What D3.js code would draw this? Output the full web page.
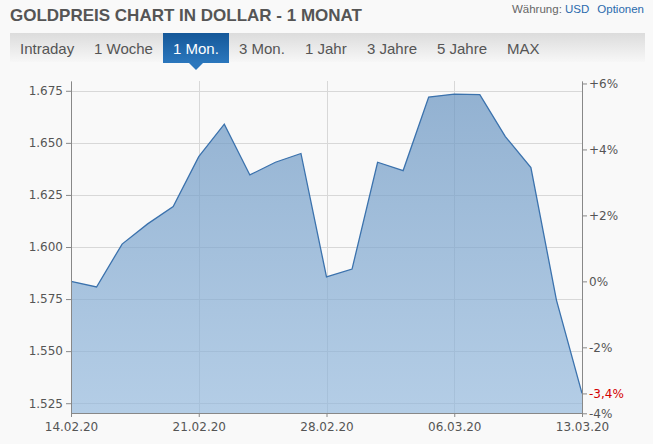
<!DOCTYPE html>
<html>
<head>
<meta charset="utf-8">
<script src="https://cdn.jsdelivr.net/npm/d3@7"></script>
<style>
  body { margin: 0; background: #f9f9f9; }
  svg { display: block; }
</style>
</head>
<body>
<div id="chart"></div>
<script>
// trading days shown on the chart
var days = ["14.02.20", "17.02.20", "18.02.20", "19.02.20", "20.02.20",
  "21.02.20", "24.02.20", "25.02.20", "26.02.20", "27.02.20",
  "28.02.20", "02.03.20", "03.03.20", "04.03.20", "05.03.20",
  "06.03.20", "09.03.20", "10.03.20", "11.03.20", "12.03.20", "13.03.20"];

// gold price in dollar (thousands)
var prices = [1.5835, 1.5808, 1.6014, 1.6111, 1.6194,
  1.6434, 1.6590, 1.6346, 1.6407, 1.6449,
  1.5856, 1.5894, 1.6407, 1.6367, 1.6720,
  1.6734, 1.6732, 1.6530, 1.6381, 1.5745, 1.5297];

var dateTicks = ["14.02.20", "21.02.20", "28.02.20", "06.03.20", "13.03.20"];
var priceTicks = [1.525, 1.550, 1.575, 1.600, 1.625, 1.650, 1.675];
var pctTicks = [-0.04, -0.02, 0, 0.02, 0.04, 0.06];

var tabs = ["Intraday", "1 Woche", "1 Mon.", "3 Mon.", "1 Jahr", "3 Jahre", "5 Jahre", "MAX"];
var tabX = [20, 94, 173, 239, 305, 367, 437, 507];
var activeTab = "1 Mon.";

var svgWidth = 653;
var svgHeight = 444;

var margin = { top: 81, right: 71, bottom: 31, left: 71 };
var width = svgWidth - margin.left - margin.right;
var height = svgHeight - margin.top - margin.bottom;

var svg = d3.select("#chart")
  .append("svg")
  .attr("width", svgWidth)
  .attr("height", svgHeight);

var defs = svg.append("defs");

var barGrad = defs.append("linearGradient")
  .attr("id", "barGrad").attr("x1", 0).attr("y1", 0).attr("x2", 0).attr("y2", 1);
barGrad.append("stop").attr("offset", "0%").attr("stop-color", "#dcdcdc");
barGrad.append("stop").attr("offset", "100%").attr("stop-color", "#f7f7f7");

var tabGrad = defs.append("linearGradient")
  .attr("id", "tabGrad").attr("x1", 0).attr("y1", 0).attr("x2", 0).attr("y2", 1);
tabGrad.append("stop").attr("offset", "0%").attr("stop-color", "#155899");
tabGrad.append("stop").attr("offset", "100%").attr("stop-color", "#2b77bd");

var areaGrad = defs.append("linearGradient")
  .attr("id", "areaGrad").attr("x1", 0).attr("y1", 0).attr("x2", 0).attr("y2", 1);
areaGrad.append("stop").attr("offset", "0%").attr("stop-color", "#6b96c2").attr("stop-opacity", 0.72);
areaGrad.append("stop").attr("offset", "100%").attr("stop-color", "#8fb6dc").attr("stop-opacity", 0.65);

// header
svg.append("text")
  .attr("x", 10)
  .attr("y", 21)
  .attr("font-family", "Liberation Sans, Arial, sans-serif")
  .attr("font-weight", "bold")
  .attr("font-size", "17px")
  .attr("fill", "#555")
  .text("GOLDPREIS CHART IN DOLLAR - 1 MONAT");

var topRight = svg.append("text")
  .attr("x", 644)
  .attr("y", 13)
  .attr("text-anchor", "end")
  .attr("font-family", "Liberation Sans, Arial, sans-serif")
  .attr("font-size", "11.5px");
topRight.append("tspan").attr("fill", "#666").text("Währung: ");
topRight.append("tspan").attr("fill", "#2a6aad").text("USD");
topRight.append("tspan").attr("fill", "#2a6aad").attr("dx", 8).text("Optionen");

// tab bar
svg.append("rect")
  .attr("x", 10).attr("y", 33)
  .attr("width", 635).attr("height", 29)
  .attr("fill", "url(#barGrad)");

var activeI = tabs.indexOf(activeTab);
svg.append("rect")
  .attr("x", 163).attr("y", 33)
  .attr("width", 66).attr("height", 30)
  .attr("fill", "url(#tabGrad)");
svg.append("path")
  .attr("d", "M189,63 L203,63 L196,70 Z")
  .attr("fill", "#2b77bd");

svg.selectAll(".tab")
  .data(tabs)
  .enter()
  .append("text")
  .attr("class", "tab")
  .attr("x", (d, i) => tabX[i])
  .attr("y", 54)
  .attr("font-family", "Liberation Sans, Arial, sans-serif")
  .attr("font-size", "15px")
  .attr("fill", (d, i) => i === activeI ? "#fff" : "#555")
  .text(d => d);

// chart
var chartGroup = svg.append("g")
  .attr("transform", `translate(${margin.left}, ${margin.top})`);

var xScale = d3.scaleLinear()
  .domain([0, days.length - 1])
  .range([0, width]);

var yScale = d3.scaleLinear()
  .domain([1.5203, 1.6797])
  .range([height, 0]);

var base = prices[0];
var last = prices[prices.length - 1];

// gridlines
chartGroup.selectAll(".hgrid")
  .data(priceTicks)
  .enter()
  .append("line")
  .attr("x1", 0).attr("x2", width)
  .attr("y1", d => Math.round(yScale(d)) + 0.5)
  .attr("y2", d => Math.round(yScale(d)) + 0.5)
  .attr("stroke", "#d8d8d8");

chartGroup.selectAll(".vgrid")
  .data(dateTicks)
  .enter()
  .append("line")
  .attr("y1", 0).attr("y2", height)
  .attr("x1", d => Math.round(xScale(days.indexOf(d))) + 0.5)
  .attr("x2", d => Math.round(xScale(days.indexOf(d))) + 0.5)
  .attr("stroke", "#d8d8d8");

// area + line
var area = d3.area()
  .x((d, i) => xScale(i))
  .y0(height)
  .y1(d => yScale(d));

var line = d3.line()
  .x((d, i) => xScale(i))
  .y(d => yScale(d));

chartGroup.append("path")
  .datum(prices)
  .attr("d", area)
  .attr("fill", "url(#areaGrad)");

chartGroup.append("path")
  .datum(prices)
  .attr("d", line)
  .attr("fill", "none")
  .attr("stroke", "#3b72ad")
  .attr("stroke-width", 1.3);

// axes
var leftAxis = d3.axisLeft(yScale)
  .tickValues(priceTicks)
  .tickFormat(d3.format(".3f"))
  .tickSize(5)
  .tickPadding(3)
  .tickSizeOuter(0);

var bottomAxis = d3.axisBottom(xScale)
  .tickValues(dateTicks.map(d => days.indexOf(d)))
  .tickFormat(i => days[i])
  .tickSize(4)
  .tickPadding(5)
  .tickSizeOuter(0);

var pctScale = d3.scaleLinear()
  .domain(yScale.domain().map(v => v / base - 1))
  .range([height, 0]);

var rightAxis = d3.axisRight(pctScale)
  .tickValues(pctTicks.concat([last / base - 1]))
  .tickFormat(p => {
    if (Math.abs(p) < 1e-9) return "0%";
    var n = Math.abs(p * 100);
    var s = Math.abs(n - Math.round(n)) < 1e-9 ? String(Math.round(n)) : n.toFixed(1).replace(".", ",");
    return (p > 0 ? "+" : "-") + s + "%";
  })
  .tickSize(5)
  .tickPadding(2)
  .tickSizeOuter(0);

function styleAxis(g) {
  g.select(".domain").attr("stroke", "#888");
  g.selectAll(".tick line").attr("stroke", "#888");
  g.selectAll(".tick text")
    .attr("font-family", "DejaVu Sans, Verdana, sans-serif")
    .attr("font-size", "12px")
    .attr("fill", "#555");
}

chartGroup.append("g").call(leftAxis).call(styleAxis);

chartGroup.append("g")
  .attr("transform", `translate(0, ${height})`)
  .call(bottomAxis)
  .call(styleAxis);

var rAxis = chartGroup.append("g")
  .attr("transform", `translate(${width}, 0)`)
  .call(rightAxis)
  .call(styleAxis);

rAxis.selectAll(".tick text")
  .filter(p => Math.abs(p - (last / base - 1)) < 1e-9)
  .attr("fill", "#d40000");
</script>
</body>
</html>
